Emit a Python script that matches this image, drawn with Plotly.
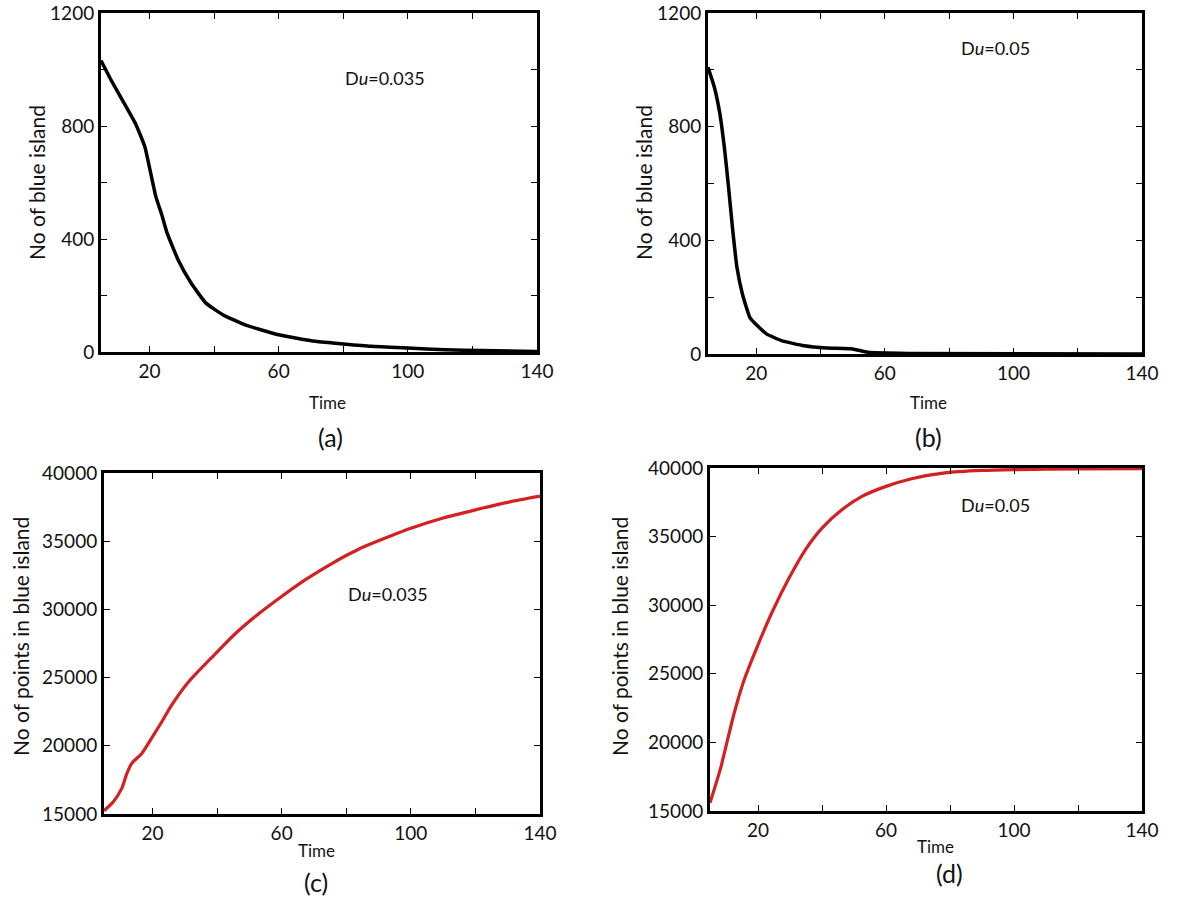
import plotly.graph_objects as go

# ---------------- data ----------------
t_a = [5, 8.2, 11.7, 15.7, 18.6, 20.4, 22, 23.7, 25.5, 28.9, 32.9, 37.5, 42.7, 49.6, 60, 71.4, 88.7, 100, 111.6, 123, 140]
n_a = [1032, 961, 890, 808, 726, 632, 549, 490, 420, 326, 244, 173, 132, 96, 61, 38, 20, 14, 8, 5, 2]

t_b = [5, 7, 8.7, 10.2, 11.4, 12.6, 14, 15.7, 18, 20.3, 23.3, 27.9, 34.9, 41.9, 50, 54.7, 67.4, 140]
n_b = [1009, 938, 845, 716, 586, 446, 305, 211, 129, 100, 70, 47, 29, 21, 18, 6, 2, 0]

t_c = [5, 7.9, 10.5, 12.1, 13.6, 16.7, 20, 22.9, 25.6, 31.2, 37.4, 40, 45.7, 53, 60, 67.5, 75.8, 80, 86, 93.3, 100, 110, 120, 130, 140]
p_c = [15240, 15900, 16880, 17980, 18710, 19440, 20660, 21760, 22860, 24700, 26250, 26870, 28230, 29700, 30950, 32200, 33400, 33950, 34650, 35350, 35950, 36700, 37300, 37850, 38300]

t_d = [5, 8.3, 12.4, 15.5, 20, 24.5, 29.7, 34.8, 40, 46.2, 52.5, 60, 68, 78.4, 90, 100, 120, 140]
p_d = [15600, 18110, 22000, 24440, 27110, 29540, 31975, 34040, 35620, 36960, 37930, 38660, 39220, 39640, 39820, 39880, 39930, 39950]

x_ticks = [20, 40, 60, 80, 100, 120, 140]
x_ticklabels = ["20", "", "60", "", "100", "", "140"]
y_ticks_top = [0, 200, 400, 600, 800, 1000, 1200]
y_ticklabels_top = ["0", "", "400", "", "800", "", "1200"]
y_ticks_bot = [15000, 20000, 25000, 30000, 35000, 40000]
y_ticklabels_bot = ["15000", "20000", "25000", "30000", "35000", "40000"]

du_a = "D<i>u</i>=0.035"
du_b = "D<i>u</i>=0.05"
panel_labels = ["(a)", "(b)", "(c)", "(d)"]
ytitle_top = "No of blue island"
ytitle_bot = "No of points in blue island"
xtitle = "Time"

# ---------------- figure ----------------
W, H = 1178, 902
FONT = "Lato"
BLACK = "#000000"
RED = "#d42020"

def px(x):
    return x / W

def py(y):
    return 1 - y / H

fig = go.Figure()

fig.add_trace(go.Scatter(x=t_a, y=n_a, mode="lines", line=dict(color=BLACK, width=3.5, shape="spline", smoothing=0.4), xaxis="x", yaxis="y", showlegend=False))
fig.add_trace(go.Scatter(x=t_b, y=n_b, mode="lines", line=dict(color=BLACK, width=3.5, shape="spline", smoothing=0.4), xaxis="x2", yaxis="y2", showlegend=False))
fig.add_trace(go.Scatter(x=t_c, y=p_c, mode="lines", line=dict(color=RED, width=3.2, shape="spline", smoothing=0.7), xaxis="x3", yaxis="y3", showlegend=False))
fig.add_trace(go.Scatter(x=t_d, y=p_d, mode="lines", line=dict(color=RED, width=3.2, shape="spline", smoothing=0.6), xaxis="x4", yaxis="y4", showlegend=False))

boxes = {
    # name: (left, top, right, bottom) in pixels
    1: (101, 13, 537, 352),
    2: (708, 13, 1142, 354),
    3: (104, 473, 540, 814),
    4: (710, 468, 1142, 811),
}

def xaxis_cfg(b):
    l, t, r, bt = b
    return dict(domain=[px(l), px(r)], range=[5, 140], tickmode="array", tickvals=x_ticks,
                ticktext=x_ticklabels, ticks="inside", ticklen=6, tickwidth=1, tickcolor=BLACK,
                showline=True, linecolor=BLACK, linewidth=3, mirror="allticks", showgrid=False,
                zeroline=False, automargin=False, tickfont=dict(family=FONT, size=19, color="#111111"))

def yaxis_cfg(b, vals, labels, rng, anchor):
    l, t, r, bt = b
    return dict(domain=[py(bt), py(t)], range=rng, tickmode="array", tickvals=vals,
                ticktext=labels, ticks="inside", ticklen=6, tickwidth=1, tickcolor=BLACK,
                showline=True, linecolor=BLACK, linewidth=3, mirror="allticks", showgrid=False,
                zeroline=False, automargin=False, anchor=anchor,
                tickfont=dict(family=FONT, size=19, color="#111111"))

fig.update_layout(
    autosize=True, margin=dict(l=0, r=0, t=0, b=0, autoexpand=False),
    paper_bgcolor="white", plot_bgcolor="white",
    xaxis=dict(xaxis_cfg(boxes[1]), anchor="y"),
    yaxis=yaxis_cfg(boxes[1], y_ticks_top, y_ticklabels_top, [0, 1200], "x"),
    xaxis2=dict(xaxis_cfg(boxes[2]), anchor="y2"),
    yaxis2=yaxis_cfg(boxes[2], y_ticks_top, y_ticklabels_top, [0, 1200], "x2"),
    xaxis3=dict(xaxis_cfg(boxes[3]), anchor="y3"),
    yaxis3=yaxis_cfg(boxes[3], y_ticks_bot, y_ticklabels_bot, [15000, 40000], "x3"),
    xaxis4=dict(xaxis_cfg(boxes[4]), anchor="y4"),
    yaxis4=yaxis_cfg(boxes[4], y_ticks_bot, y_ticklabels_bot, [15000, 40000], "x4"),
)

def ann(text, x, y, size, angle=0):
    fig.add_annotation(text=text, x=px(x), y=py(y), xref="paper", yref="paper",
                       showarrow=False, textangle=angle, xanchor="center", yanchor="middle",
                       font=dict(family=FONT, size=size, color="#111111"))

# Du annotations
ann(du_a, 385, 78, 18)
ann(du_b, 995, 48, 18)
ann(du_a, 388, 594, 18)
ann(du_b, 995, 505, 18)

# x titles
ann(xtitle, 327, 402, 17)
ann(xtitle, 929, 402, 17)
ann(xtitle, 316, 850, 17)
ann(xtitle, 936, 846, 17)

# panel labels
ann(panel_labels[0], 330, 437, 25)
ann(panel_labels[1], 928, 437, 25)
ann(panel_labels[2], 316, 882, 25)
ann(panel_labels[3], 949, 873, 25)

# y titles
ann(ytitle_top, 36, 183, 21, -90)
ann(ytitle_top, 643, 183, 21, -90)
ann(ytitle_bot, 20, 637, 21, -90)
ann(ytitle_bot, 619, 637, 21, -90)

fig.write_html(
    "out.html",
    default_width="100vw",
    default_height="100vh",
    config={"displayModeBar": False, "responsive": True},
    post_script="document.body.style.margin='0';document.body.style.overflow='hidden';window.dispatchEvent(new Event('resize'));",
)
